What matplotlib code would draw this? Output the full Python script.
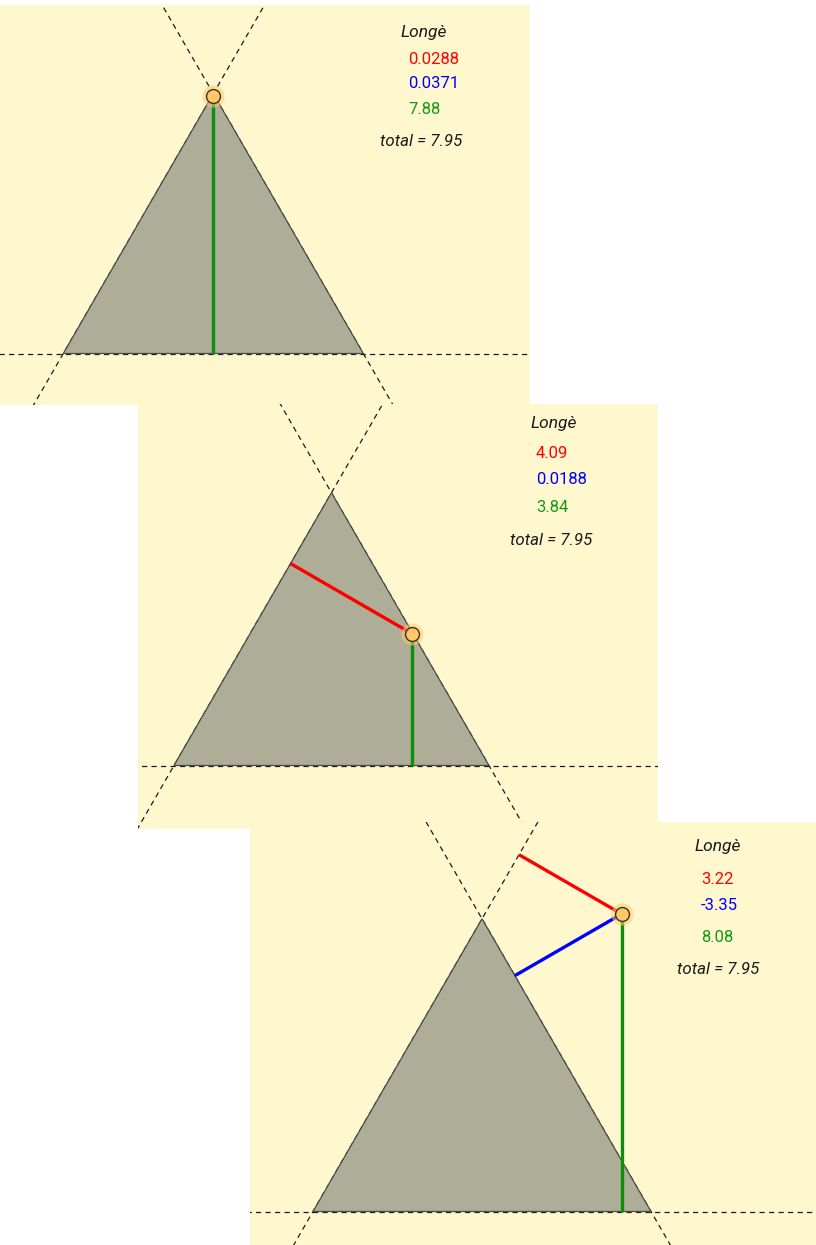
import numpy as np
import matplotlib.pyplot as plt

plt.rcParams['font.family'] = ['Roboto', 'DejaVu Sans']

# Viviani: the three signed distances always sum to the height
total = 7.95
red_dist = [0.0288, 4.09, 3.22]
blue_dist = [0.0371, 0.0188, -3.35]
green_dist = [7.88, 3.84, 8.08]
red_labels = ["0.0288", "4.09", "3.22"]
blue_labels = ["0.0371", "0.0188", "-3.35"]
green_labels = ["7.88", "3.84", "8.08"]
title = "Longè"
total_label = "total = 7.95"

W, H = 816, 1245
bg = "#FFF8CF"
tri_fill = "#AEAD97"
red = "#FF0000"
blue = "#0000FF"
green = "#0A8F0A"

# panel layout in pixels: box (left, top, right, bottom), base-left vertex, px per unit
boxes = [(0, 5, 530, 405), (138, 404, 658, 829), (250, 822, 816, 1245)]
origins = [(63.3, 353.5), (174, 765.5), (313, 1211.5)]
scales = [32.68, 34.31, 36.82]
title_pos = [(424, 33), (554, 424), (718, 847)]
value_x = [408, 536, 701]
value_y = [(60, 84, 110), (453, 480, 508), (880, 906, 937)]
total_pos = [(421, 142), (551, 541), (718, 970)]

side = total * 2 / np.sqrt(3)
A = np.array([0.0, 0.0])
B = np.array([side, 0.0])
C = np.array([side / 2, total])
n_left = np.array([np.sqrt(3) / 2, -0.5])
n_right = np.array([-np.sqrt(3) / 2, -0.5])

fig = plt.figure(figsize=(W / 100, H / 100), dpi=100)

for i in range(3):
    l, t, r, b = boxes[i]
    ox, oy = origins[i]
    s = scales[i]
    ax = fig.add_axes([l / W, 1 - b / H, (r - l) / W, (b - t) / H])
    ax.set_facecolor(bg)
    ax.set_xlim((l - ox) / s, (r - ox) / s)
    ax.set_ylim(-(b - oy) / s, (oy - t) / s)
    ax.set_axis_off()
    ax.add_patch(plt.Rectangle((0, 0), 1, 1, transform=ax.transAxes, color=bg, zorder=0))

    # extended sides
    for p, q in [(A, B), (A, C), (B, C)]:
        d = (q - p) / np.linalg.norm(q - p)
        pts = np.array([p - 30 * d, p + 30 * d])
        ax.plot(pts[:, 0], pts[:, 1], color="#1a1a1a", lw=0.9,
                linestyle=(0, (4.2, 3.4)), zorder=1)

    tri = np.array([A, B, C])
    ax.fill(tri[:, 0], tri[:, 1], facecolor=tri_fill, edgecolor="#4a4a4a", lw=0.9, zorder=2)

    g = green_dist[i]
    rd = red_dist[i]
    P = np.array([(rd + g / 2) * 2 / np.sqrt(3), g])
    foot_l = P - (n_left @ (P - A)) * n_left
    foot_r = P - (n_right @ (P - B)) * n_right
    foot_b = np.array([P[0], 0.0])

    ax.plot([P[0], foot_l[0]], [P[1], foot_l[1]], color=red, lw=2.4, zorder=3,
            solid_capstyle="butt")
    ax.plot([P[0], foot_r[0]], [P[1], foot_r[1]], color=blue, lw=2.4, zorder=3,
            solid_capstyle="butt")
    ax.plot([P[0], foot_b[0]], [P[1], foot_b[1]], color=green, lw=2.4, zorder=3,
            solid_capstyle="butt")

    ax.plot(P[0], P[1], "o", ms=16, color="#FFC966", alpha=0.55, mew=0, zorder=4)
    ax.plot(P[0], P[1], "o", ms=10, mfc="#FFC766", mec="#333333", mew=1, zorder=5)

    tx, ty = title_pos[i]
    fig.text(tx / W, 1 - ty / H, title, ha="center", va="center", fontsize=12.5,
             style="italic", color="#1a1a1a")
    vx = value_x[i]
    for y, txt, col in zip(value_y[i], [red_labels[i], blue_labels[i], green_labels[i]],
                           [red, blue, "#119A11"]):
        fig.text(vx / W, 1 - y / H, txt, ha="left", va="center", fontsize=12, color=col)
    px, py = total_pos[i]
    fig.text(px / W, 1 - py / H, total_label, ha="center", va="center", fontsize=12.2,
             style="italic", color="#1a1a1a")

fig.savefig("out.png", dpi=100, facecolor="white")
